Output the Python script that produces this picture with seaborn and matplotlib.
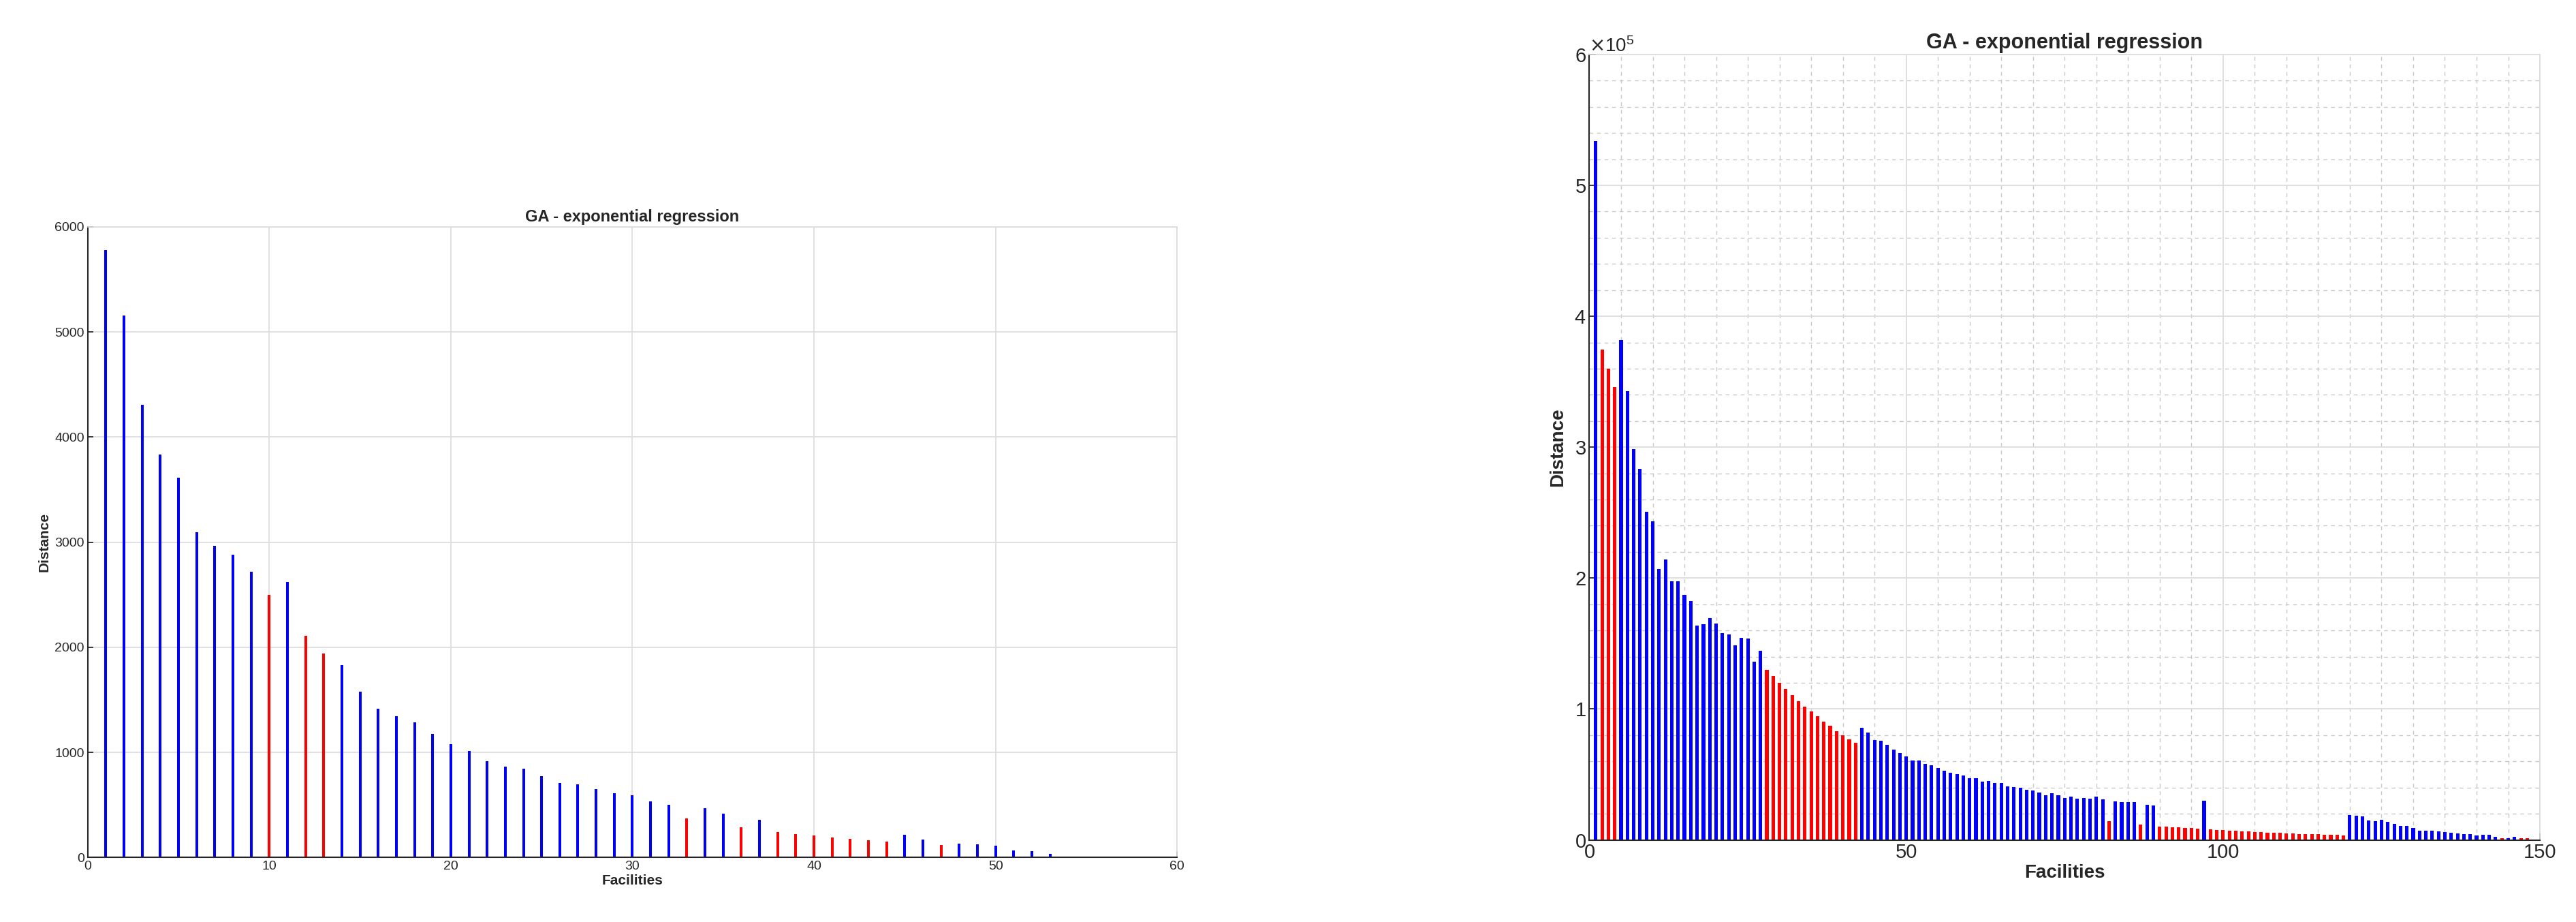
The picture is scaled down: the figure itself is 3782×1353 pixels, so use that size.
import matplotlib
matplotlib.use("Agg")
import matplotlib.pyplot as plt
import seaborn as sns
import numpy as np
import pandas as pd
from matplotlib.ticker import MultipleLocator

sns.set_theme(style="white")
plt.rcParams['font.family'] = ['Liberation Sans', 'DejaVu Sans']

# ---- left chart data ----
left_x = list(range(1, 55))
left_vals = [5777, 5155, 4309, 3831, 3612, 3094, 2965, 2879, 2718, 2499,
             2620, 2111, 1943, 1833, 1575, 1414, 1343, 1285, 1175, 1077,
             1011, 917, 866, 846, 772, 709, 697, 650, 611, 591,
             533, 500, 371, 468, 416, 287, 358, 242, 222, 209,
             190, 177, 164, 151, 216, 170, 119, 132, 125, 112,
             67, 60, 35, 9]
left_red = [10, 12, 13, 33, 36, 38, 39, 40, 41, 42, 43, 44, 47]

# ---- right chart data (x 1e5) ----
right_x = list(range(1, 150))
right_vals = [5.336, 3.746, 3.600, 3.459, 3.819, 3.426, 2.985, 2.836, 2.508, 2.435,
              2.071, 2.144, 1.978, 1.978, 1.873, 1.824, 1.638, 1.650, 1.695, 1.655,
              1.578, 1.570, 1.489, 1.545, 1.541, 1.363, 1.444, 1.299, 1.250, 1.201,
              1.153, 1.108, 1.060, 1.019, 0.979, 0.943, 0.906, 0.870, 0.833, 0.801,
              0.769, 0.744, 0.856, 0.819, 0.762, 0.757, 0.725, 0.689, 0.663, 0.637,
              0.605, 0.605, 0.579, 0.569, 0.548, 0.527, 0.511, 0.501, 0.490, 0.470,
              0.470, 0.443, 0.449, 0.433, 0.433, 0.407, 0.402, 0.397, 0.381, 0.376,
              0.360, 0.339, 0.355, 0.339, 0.323, 0.329, 0.313, 0.318, 0.313, 0.329,
              0.308, 0.146, 0.297, 0.287, 0.287, 0.287, 0.120, 0.271, 0.261, 0.104,
              0.104, 0.099, 0.095, 0.090, 0.090, 0.085, 0.302, 0.079, 0.074, 0.074,
              0.069, 0.069, 0.064, 0.064, 0.059, 0.059, 0.054, 0.054, 0.054, 0.048,
              0.048, 0.043, 0.043, 0.043, 0.043, 0.038, 0.038, 0.038, 0.033, 0.193,
              0.183, 0.178, 0.147, 0.142, 0.152, 0.136, 0.121, 0.105, 0.105, 0.090,
              0.069, 0.069, 0.069, 0.064, 0.059, 0.054, 0.048, 0.043, 0.043, 0.033,
              0.038, 0.038, 0.022, 0.012, 0.012, 0.022, 0.012, 0.012, 0.003]
right_red = [2, 3, 4] + list(range(28, 43)) + [82, 87] + list(range(90, 97)) + \
            list(range(98, 120)) + [144, 147, 148]

palette = {"blue": "#0000ff", "red": "#ff0000"}

fig = plt.figure(figsize=(37.82, 13.53), dpi=100)
ax1 = fig.add_axes([0.034, 0.070, 0.423, 0.684])
ax2 = fig.add_axes([0.617, 0.089, 0.369, 0.852])

dfl = pd.DataFrame({"x": left_x, "y": left_vals,
                    "c": ["red" if i in left_red else "blue" for i in left_x]})
sns.barplot(data=dfl, x="x", y="y", hue="c", palette=palette, native_scale=True,
            width=0.15, dodge=False, legend=False, ax=ax1, saturation=1, linewidth=0)

dfr = pd.DataFrame({"x": right_x, "y": [v * 1e5 for v in right_vals],
                    "c": ["red" if i in right_red else "blue" for i in right_x]})
sns.barplot(data=dfr, x="x", y="y", hue="c", palette=palette, native_scale=True,
            width=0.55, dodge=False, legend=False, ax=ax2, saturation=1, linewidth=0)

grid_c = "#dcdcdc"
for ax in (ax1, ax2):
    ax.set_axisbelow(True)
    for s in ("top", "right"):
        ax.spines[s].set_color(grid_c)
    for s in ("left", "bottom"):
        ax.spines[s].set_color("#262626")
        ax.spines[s].set_linewidth(1.5)

ax1.set_xlim(0, 60)
ax1.set_ylim(0, 6000)
ax1.set_xticks(range(0, 61, 10))
ax1.set_yticks(range(0, 6001, 1000))
ax1.grid(True, color=grid_c, linewidth=1.2)
ax1.tick_params(labelsize=14, colors="#262626", direction="in", length=6, left=True, bottom=True)
ax1.set_title("GA - exponential regression", fontsize=17, fontweight="bold")
ax1.set_xlabel("Facilities", fontsize=15, fontweight="bold", labelpad=2)
ax1.set_ylabel("Distance", fontsize=15, fontweight="bold", labelpad=4)

ax2.set_xlim(0, 150)
ax2.set_ylim(0, 6e5)
ax2.set_xticks([0, 50, 100, 150])
ax2.set_yticks(np.arange(0, 6.01e5, 1e5))
ax2.xaxis.set_minor_locator(MultipleLocator(5))
ax2.yaxis.set_minor_locator(MultipleLocator(0.2e5))
ax2.grid(True, which="major", color=grid_c, linewidth=1.3)
ax2.grid(True, which="minor", color="#c8c8c8", linewidth=1.0, linestyle=(0, (4, 4)))
ax2.ticklabel_format(axis="y", style="sci", scilimits=(0, 0), useMathText=True)
ax2.yaxis.get_offset_text().set_fontsize(20)
ax2.tick_params(labelsize=21, colors="#262626", direction="in", length=7, left=True, bottom=True)
ax2.set_title("GA - exponential regression", fontsize=22, fontweight="bold")
ax2.set_xlabel("Facilities", fontsize=20, fontweight="bold", labelpad=2)
ax2.set_ylabel("Distance", fontsize=20, fontweight="bold", labelpad=8)

fig.savefig("out.png", dpi=100, facecolor="white")
